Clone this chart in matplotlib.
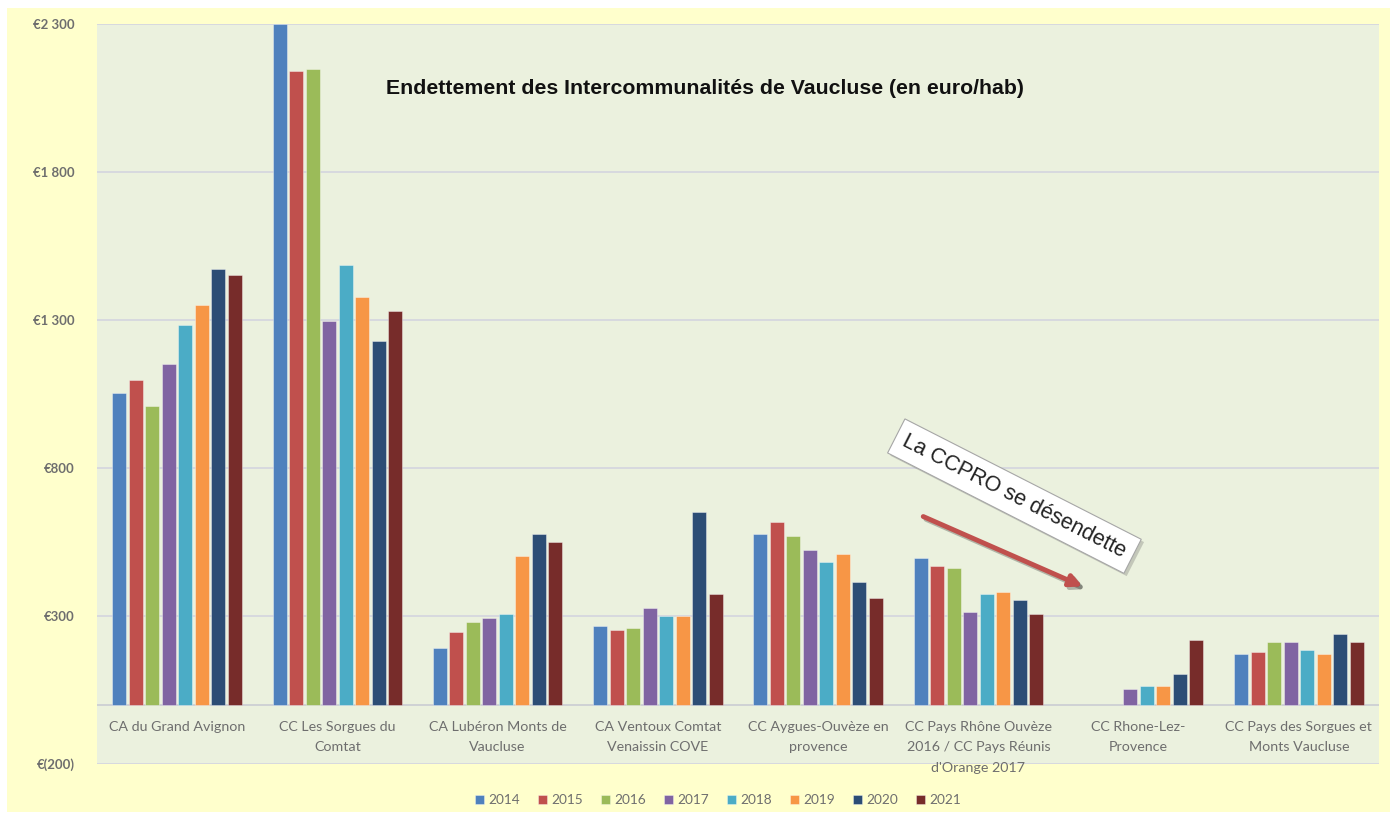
import numpy as np
import matplotlib
matplotlib.use("Agg")
import matplotlib.pyplot as plt
import matplotlib.patheffects as pe
from matplotlib.patches import Rectangle, Patch

# data (euro / inhabitant)
categories = ["CA du Grand Avignon", "CC Les Sorgues du\nComtat", "CA Lubéron Monts de\nVaucluse",
              "CA Ventoux Comtat\nVenaissin COVE", "CC Aygues-Ouvèze en\nprovence",
              "CC Pays Rhône Ouvèze\n2016 / CC Pays Réunis\nd'Orange 2017", "CC Rhone-Lez-\nProvence",
              "CC Pays des Sorgues et\nMonts Vaucluse"]
years = ["2014", "2015", "2016", "2017", "2018", "2019", "2020", "2021"]
v2014 = [1052, 2300, 192, 266, 577, 496, np.nan, 171]
v2015 = [1098, 2140, 246, 253, 618, 468, np.nan, 178]
v2016 = [1011, 2147, 280, 259, 570, 462, np.nan, 212]
v2017 = [1152, 1296, 293, 327, 523, 312, 55, 212]
v2018 = [1282, 1486, 307, 300, 483, 374, 63, 185]
v2019 = [1349, 1377, 503, 300, 510, 381, 63, 171]
v2020 = [1471, 1228, 577, 652, 415, 354, 104, 239]
v2021 = [1453, 1330, 550, 374, 361, 307, 219, 212]
series = [v2014, v2015, v2016, v2017, v2018, v2019, v2020, v2021]
yticks = [-200, 300, 800, 1300, 1800, 2300]
ytick_labels = ["€(200)", "€300", "€800", "€1 300", "€1 800", "€2 300"]

colors = ["#4F81BD", "#C0504D", "#9BBB59", "#8064A2", "#4BACC6", "#F79646", "#2C4D75", "#772C2A"]
grey_txt = "#6E6E6E"

W, H = 1391, 814
fig = plt.figure(figsize=(W / 100, H / 100), dpi=100, facecolor="white")
fig.patches.append(Rectangle((7 / W, 2 / H), 1383 / W, 804 / H, transform=fig.transFigure,
                             facecolor="#FFFFCC", edgecolor="none", zorder=-5))

ax = fig.add_axes([97 / W, (H - 764) / H, (1379 - 97) / W, (764 - 24) / H])
ax.set_zorder(2)
ax.set_facecolor("#EBF1DE")
ax.set_xlim(-0.5, 7.5)
ax.set_ylim(-200, 2300)
for s in ax.spines.values():
    s.set_visible(False)

ax.set_yticks(yticks)
ax.set_yticklabels(ytick_labels, fontfamily="Lato", fontsize=9.5, color=grey_txt, fontweight="bold")
ax.tick_params(axis="y", length=0, pad=16)
ax.set_xticks([])
ax.grid(axis="y", color="#D3D5DE", lw=1.2)
ax.set_axisbelow(True)
ax.axhline(0, color="#CACCD2", lw=1.2, zorder=1)

x = np.arange(len(categories))
step, bw = 0.103, 0.088
for i, (vals, c) in enumerate(zip(series, colors)):
    ax.bar(x + (i - 3.5) * step, vals, width=bw, color=c, edgecolor=(1, 1, 1, 0.45),
           linewidth=0.6, zorder=2)

for xi, lab in zip(x, categories):
    ax.text(xi, -54, lab, ha="center", va="top", fontfamily="Lato", fontsize=10.3,
            color=grey_txt, linespacing=1.85, clip_on=False)

fig.text(705 / W, 1 - 88 / H, "Endettement des Intercommunalités de Vaucluse (en euro/hab)",
         ha="center", va="center", fontweight="bold", fontsize=15.3,
         family="Liberation Sans", color="#111111")

# annotation
t = ax.text(5.225, 705, "La CCPRO se désendette", rotation=-27, rotation_mode="anchor",
            ha="center", va="center", fontsize=15.5, family="Liberation Sans", color="#222222",
            bbox=dict(boxstyle="square,pad=0.4", fc="white", ec="#A6A6A6", lw=0.8), zorder=5)
t.get_bbox_patch().set_path_effects([pe.SimplePatchShadow(offset=(2, -2), alpha=0.25), pe.Normal()])
ax.annotate("", xy=(5.65, 400), xytext=(4.656, 636),
            arrowprops=dict(arrowstyle="-|>", color="#C0504D", lw=3.5, mutation_scale=18,
                            shrinkA=0, shrinkB=0,
                            path_effects=[pe.SimpleLineShadow(offset=(2, -2), alpha=0.25), pe.Normal()]),
            zorder=5)

handles = [Patch(facecolor=c, edgecolor=(1, 1, 1, 0.5), lw=0.5) for c in colors]
fig.legend(handles, years, loc="center", bbox_to_anchor=(718 / W, 14 / H), ncol=8, frameon=False,
           handlelength=0.65, handleheight=0.65, handletextpad=0.35, columnspacing=1.3,
           prop=dict(family="Lato", size=9.8), labelcolor=grey_txt)

fig.savefig("out.png", dpi=100, facecolor=fig.get_facecolor())
